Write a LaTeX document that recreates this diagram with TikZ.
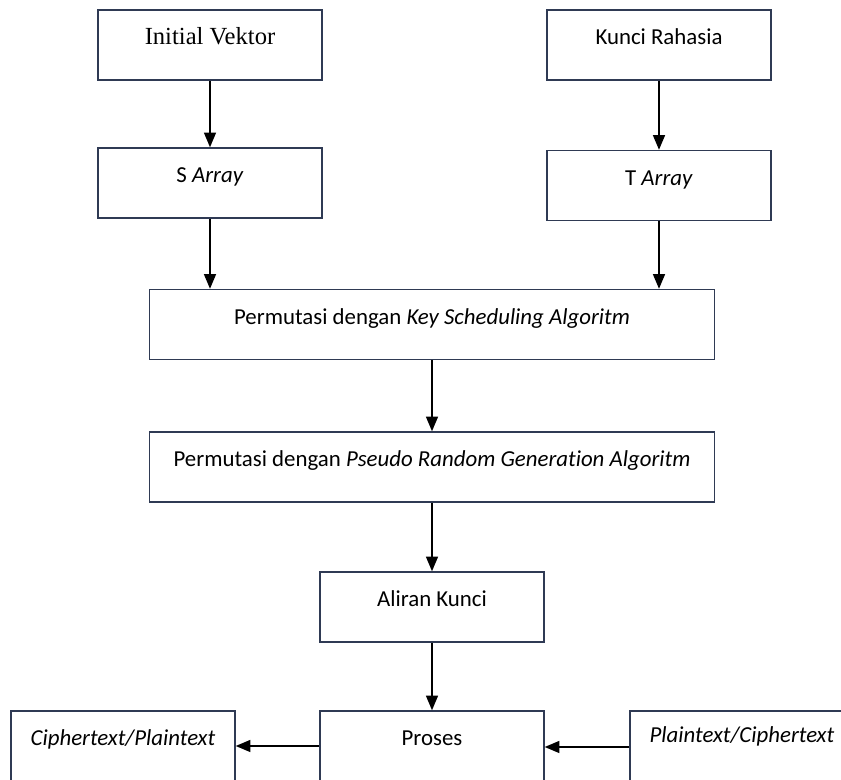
\documentclass[tikz,border=0pt]{standalone}
\usepackage{fontspec}
\setmainfont[Ligatures=NoCommon]{Carlito}
\newfontfamily\timesfont{Liberation Serif}
\usepackage{tikz}
\usetikzlibrary{arrows}
\usetikzlibrary{positioning, calc}
\usepackage{xcolor}
\definecolor{boxline}{RGB}{47,58,84}

\begin{document}
\begin{tikzpicture}[
    box/.style={draw=boxline, line width=0.9pt, rectangle, fill=white, inner sep=0pt,
      minimum width=4.48cm, text height=0.7cm, text depth=0.7cm, font=\fontsize{13}{15}\selectfont},
    wide/.style={box, minimum width=11.3cm},
    flow/.style={black, line width=0.9pt, -triangle 45}
  ]
      \useasboundingbox (0, 0) rectangle (16.82, -15.6);
      \clip (0, 0) rectangle (16.82, -15.6);

      \node[box, font=\timesfont\fontsize{14}{16}\selectfont] (iv) at (4.2, -0.9) {Initial Vektor};
      \node[box] (kr) at (13.18, -0.9) {Kunci Rahasia};
      \node[box] (sa) at (4.2, -3.66) {S \textit{Array}};
      \node[box] (ta) at (13.18, -3.71) {T \textit{Array}};
      \node[wide] (ksa) at (8.64, -6.49) {Permutasi dengan \textit{Key Scheduling Algoritm}};
      \node[wide] (prga) at (8.64, -9.34) {Permutasi dengan \textit{Pseudo Random Generation Algoritm}};
      \node[box] (ak) at (8.64, -12.14) {Aliran Kunci};
      \node[box] (pr) at (8.64, -14.92) {Proses};
      \node[box] (ct) at (2.46, -14.92) {\textit{Ciphertext/Plaintext}};
      \node[box] (pt) at (14.84, -14.92) {\raisebox{2pt}{\textit{Plaintext/Ciphertext}}};

      \draw[flow] (iv) -- (sa);
      \draw[flow] (kr) -- (ta);
      \draw[flow] (sa.south) -- (sa.south |- ksa.north);
      \draw[flow] (ta.south) -- (ta.south |- ksa.north);
      \draw[flow] (ksa) -- (prga);
      \draw[flow] (prga) -- (ak);
      \draw[flow] (ak) -- (pr);
      \draw[flow] (pr) -- (ct);
      \draw[flow] (pt.west |- 0, -14.94) -- (pr.east |- 0, -14.94);

    \end{tikzpicture}
\end{document}
